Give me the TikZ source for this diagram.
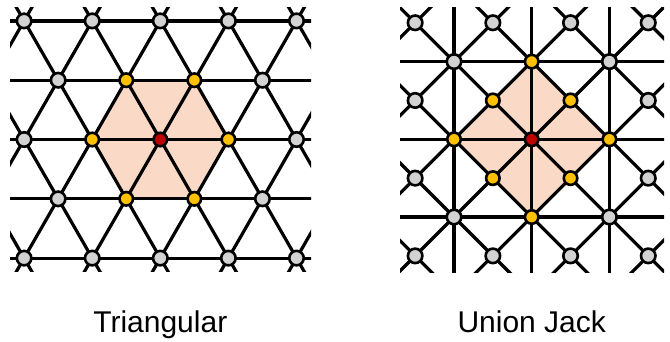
\documentclass[tikz,border=0pt]{standalone}
\usepackage{fontspec}
\setmainfont{Liberation Sans}
\definecolor{gfill}{RGB}{210,210,210}
\definecolor{yfill}{RGB}{255,192,0}
\definecolor{rfill}{RGB}{192,0,0}
\definecolor{peach}{RGB}{250,218,198}
\tikzset{
  lat/.style={line width=3.2pt, black},
  vtx/.style={circle, draw=black, line width=2.6pt, inner sep=0pt, minimum size=13.5pt},
  gnode/.style={vtx, fill=gfill, minimum size=14.5pt},
  ynode/.style={vtx, fill=yfill},
  rnode/.style={vtx, fill=rfill},
  lbl/.style={font=\fontsize{30}{36}\selectfont, anchor=base, inner sep=0pt}
}
\begin{document}
\begin{tikzpicture}[x=1pt, y=-1pt]
\useasboundingbox (0,0) rectangle (670,341);
% ---------------- Triangular ----------------
\fill[peach] (160.3-68.1,139.5) -- (160.3-34.05,139.5-59.3) -- (160.3+34.05,139.5-59.3)
  -- (160.3+68.1,139.5) -- (160.3+34.05,139.5+59.3) -- (160.3-34.05,139.5+59.3) -- cycle;
\begin{scope}
  \clip (10,7.5) rectangle (311,271.5);
  \foreach \j in {-2,...,2}
    \draw[lat] (0,139.5+\j*59.3) -- (330,139.5+\j*59.3);
  \foreach \k in {-6,...,6}{
    \draw[lat] (160.3+\k*68.1-3*34.05,139.5-3*59.3) -- (160.3+\k*68.1+3*34.05,139.5+3*59.3);
    \draw[lat] (160.3+\k*68.1+3*34.05,139.5-3*59.3) -- (160.3+\k*68.1-3*34.05,139.5+3*59.3);
  }
\end{scope}
\foreach \m/\j in {-4/0,4/0,-3/-1,3/-1,-3/1,3/1,-4/-2,-2/-2,0/-2,2/-2,4/-2,-4/2,-2/2,0/2,2/2,4/2}
  \node[gnode] (t\m\j) at (160.3+\m*34.05,139.5+\j*59.3) {};
\foreach \m/\j in {-2/0,2/0,-1/-1,1/-1,-1/1,1/1}
  \node[ynode] (t\m\j) at (160.3+\m*34.05,139.5+\j*59.3) {};
\node[rnode] (tc) at (160.3,139.5) {};
\node[lbl] (tlabel) at (160.3,332) {Triangular};
% ---------------- Union Jack ----------------
\fill[peach] (531.7-77.7,139.3) -- (531.7,139.3-77.7) -- (531.7+77.7,139.3) -- (531.7,139.3+77.7) -- cycle;
\begin{scope}
  \clip (400,7.5) rectangle (664,272);
  \foreach \j in {-2,0,2}{
    \draw[lat] (380,139.3+\j*38.85) -- (690,139.3+\j*38.85);
    \draw[lat] (531.7+\j*38.85,-10) -- (531.7+\j*38.85,290);
  }
  \foreach \k in {-4,...,4}{
    \draw[lat] (531.7+\k*77.7-200,139.3-200) -- (531.7+\k*77.7+200,139.3+200);
    \draw[lat] (531.7+\k*77.7-200,139.3+200) -- (531.7+\k*77.7+200,139.3-200);
  }
\end{scope}
\foreach \i/\j in {-3/-3,-1/-3,1/-3,3/-3,-2/-2,2/-2,-3/-1,3/-1,-3/1,3/1,-2/2,2/2,-3/3,-1/3,1/3,3/3}
  \node[gnode] (u\i\j) at (531.7+\i*38.85,139.3+\j*38.85) {};
\foreach \i/\j in {0/-2,0/2,-2/0,2/0,-1/-1,1/-1,-1/1,1/1}
  \node[ynode] (u\i\j) at (531.7+\i*38.85,139.3+\j*38.85) {};
\node[rnode] (uc) at (531.7,139.3) {};
\node[lbl] (ulabel) at (531.7,332) {Union Jack};
\end{tikzpicture}
\end{document}
